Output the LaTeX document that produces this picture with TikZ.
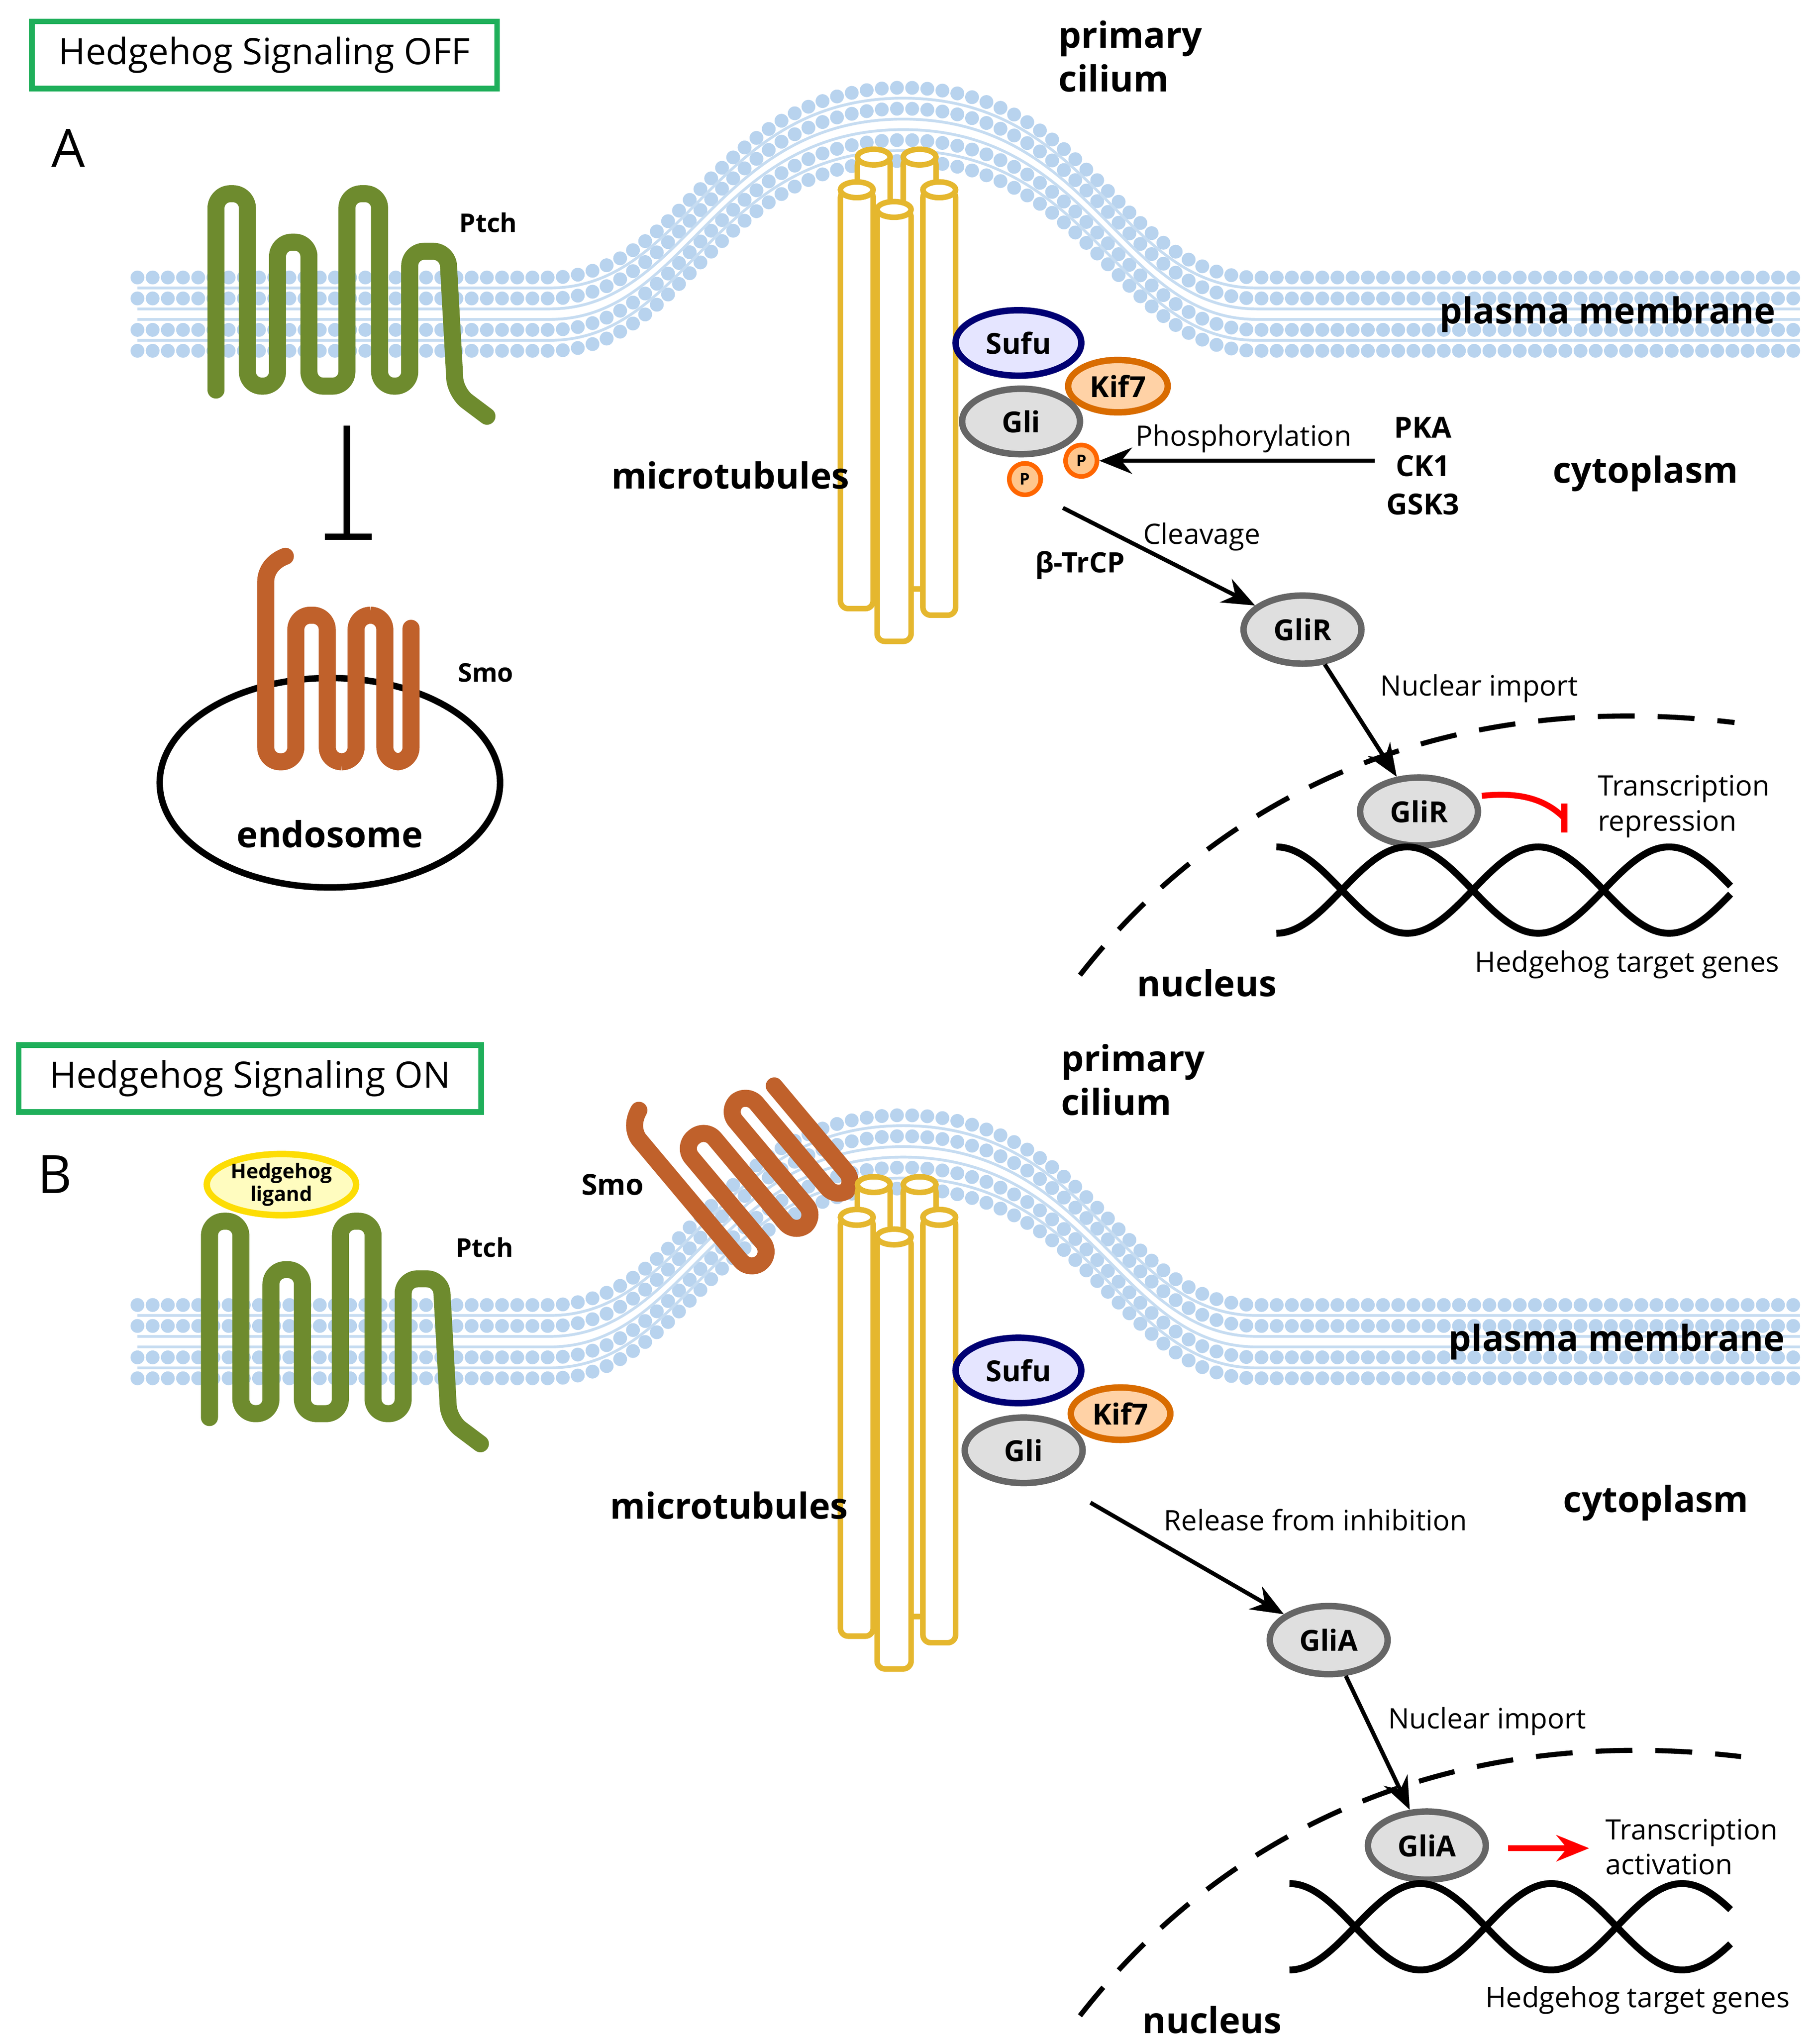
\documentclass[tikz,border=0pt]{standalone}
\usepackage{fontspec}
\setmainfont{Open Sans}
\usetikzlibrary{arrows.meta,shapes.geometric}
\definecolor{memb}{HTML}{B8D3EE}
\definecolor{ptch}{HTML}{6E8B2E}
\definecolor{smo}{HTML}{C0612B}
\definecolor{mt}{HTML}{E5B72E}
\definecolor{gbox}{HTML}{1FAF5A}
\tikzset{
 x=0.01cm,y=-0.01cm,
 head/.style={memb,line width=3pt,line cap=round,dash pattern=on 0pt off 3.3pt},
 tail/.style={memb!80,line width=0.6pt},
 ptchs/.style={ptch,line width=3.7pt,rounded corners=1.1mm,line cap=round},
 smos/.style={smo,line width=3.7pt,rounded corners=1.1mm,line cap=round},
 tube/.style={mt,line width=1.2pt,fill=white,rounded corners=0.6mm},
 prot/.style={ellipse,line width=1.4pt,inner sep=0,font=\fontsize{6.3}{7}\selectfont\bfseries},
 arr/.style={-{Stealth[length=2.5mm,width=2mm]},line width=0.9pt},
 lab/.style={font=\fontsize{6.1}{7.6}\selectfont,inner sep=0},
 blab/.style={font=\fontsize{7.8}{9.5}\selectfont\bfseries,inner sep=0},
 slab/.style={font=\fontsize{5.6}{7}\selectfont\bfseries,inner sep=0},
 nuc/.style={line width=1.1pt,dash pattern=on 8pt off 5pt},
}
\newcommand\membrane[1]{%
 \begin{scope}[shift={(0,#1)}]
 \foreach \o in {-28,-12,12,28}{
  \draw[head] (105,240+\o) -- (420,240+\o) .. controls (525,240+\o) and (545,95+\o) .. (690,95+\o) .. controls (835,95+\o) and (855,240+\o) .. (960,240+\o) -- (1375,240+\o);}
 \foreach \o in {-20,-4,4,20}{
  \draw[tail] (105,240+\o) -- (420,240+\o) .. controls (525,240+\o) and (545,95+\o) .. (690,95+\o) .. controls (835,95+\o) and (855,240+\o) .. (960,240+\o) -- (1375,240+\o);}
 \end{scope}}
\newcommand\ptchshape[2]{%
 \draw[ptchs,shift={(#1,#2)}] (165,298) -- (165,148) -- (189,148) -- (189,295) -- (212,295) -- (212,185) -- (236,185) -- (236,295) -- (265,295) -- (265,148) -- (290,148) -- (290,295) -- (313,295) -- (313,192) -- (342,192) -- (348,300) -- (372,318);}
\newcommand\tubes[1]{%
 \begin{scope}[shift={(0,#1)}]
 \draw[tube] (655,120) rectangle (680,450); \draw[mt,line width=1.2pt,fill=white] (667.5,120) ellipse (12.5 and 6);
 \draw[tube] (690,120) rectangle (715,450); \draw[mt,line width=1.2pt,fill=white] (702.5,120) ellipse (12.5 and 6);
 \draw[tube] (642,145) rectangle (667,465); \draw[mt,line width=1.2pt,fill=white] (654.5,145) ellipse (12.5 and 6);
 \draw[tube] (705,145) rectangle (730,470); \draw[mt,line width=1.2pt,fill=white] (717.5,145) ellipse (12.5 and 6);
 \draw[tube] (670,160) rectangle (696,490); \draw[mt,line width=1.2pt,fill=white] (683,160) ellipse (13 and 6);
 \end{scope}}
\newcommand\dna[2]{%
 \draw[line width=1.5pt,domain=#1:1322,samples=150,smooth] plot (\x,{#2+33*sin((\x-#1+50)*1.8)});
 \draw[line width=1.5pt,domain=#1:1322,samples=150,smooth] plot (\x,{#2-33*sin((\x-#1+50)*1.8)});}
\begin{document}
\begin{tikzpicture}
\useasboundingbox (0,0) rectangle (1390,1557);
% ===== Panel A =====
\membrane{0}
\node[draw=gbox,line width=1.2pt,minimum width=3.55cm,minimum height=0.47cm,font=\fontsize{7.9}{9}\selectfont] (tA) at (202,42) {Hedgehog Signaling OFF};
\node[font=\fontsize{11.5}{12}\selectfont] (A) at (52,113) {A};
\ptchshape{0}{0}
\node[slab] (ptchA) at (373,170) {Ptch};
\draw[line width=1.4pt] (265,325) -- (265,408); \draw[line width=1.4pt] (248,410) -- (284,410);
\draw[line width=1.4pt] (252,598) ellipse (130 and 80);
\draw[smos] (218,425) .. controls (205,430) and (203,440) .. (203,455) -- (203,582) -- (226,582) -- (226,470) -- (250,470) -- (250,582) -- (272,582) -- (272,470) -- (294,470) -- (294,582) -- (314,582) -- (314,480);
\node[slab] (smoA) at (371,514) {Smo};
\node[blab] (endo) at (252,637) {endosome};
\tubes{0}
\node[blab,align=left,anchor=north west] (pc) at (808,15) {primary\\cilium};
\node[blab] (mtA) at (558,363) {microtubules};
\node[blab] (pm) at (1228,240) {plasma membrane};
\node[blab] (cyto) at (1257,362) {cytoplasm};
\node[prot,draw=blue!45!black,fill=blue!10,minimum width=0.96cm,minimum height=0.5cm] (sufu) at (778,262) {Sufu};
\node[prot,draw=orange!85!black,fill=orange!35,minimum width=0.76cm,minimum height=0.4cm] (kif) at (854,295) {Kif7};
\node[prot,draw=gray!80!black,fill=gray!25,minimum width=0.9cm,minimum height=0.5cm] (gli) at (780,322) {Gli};
\node[circle,draw=orange!80!red,fill=orange!45,line width=1pt,inner sep=0,minimum size=0.24cm,font=\fontsize{3.5}{4}\selectfont\bfseries] (p1) at (826,352) {P};
\node[circle,draw=orange!80!red,fill=orange!45,line width=1pt,inner sep=0,minimum size=0.24cm,font=\fontsize{3.5}{4}\selectfont\bfseries] (p2) at (783,366) {P};
\node[slab,font=\fontsize{6.3}{8.3}\selectfont\bfseries,align=center] (kin) at (1087,356) {PKA\\CK1\\GSK3};
\coordinate (phs) at (1050,352);
\draw[arr] (phs) -- (p1);
\node[lab] (phl) at (950,335) {Phosphorylation};
\node[prot,draw=gray!80!black,fill=gray!25,minimum width=0.9cm,minimum height=0.52cm] (gliR) at (995,481) {GliR};
\coordinate (cl) at (812,388);
\draw[arr] (cl) -- (gliR);
\node[lab] (cll) at (918,410) {Cleavage};
\node[slab,font=\fontsize{6.1}{7}\selectfont\bfseries] (btrcp) at (825,432) {β-TrCP};
\draw[nuc] (825,745) .. controls (930,610) and (1100,525) .. (1325,552);
\node[prot,draw=gray!80!black,fill=gray!25,minimum width=0.9cm,minimum height=0.52cm] (gliRn) at (1084,620) {GliR};
\draw[arr] (gliR) -- (gliRn);
\node[lab] (nil) at (1130,526) {Nuclear import};
\coordinate (rep0) at (1132,608);
\coordinate (rep) at (1195,625);
\draw[red,line width=1.3pt] (rep0) .. controls (1160,605) and (1180,610) .. (rep);
\draw[red,line width=1.3pt] (1195,614) -- (1195,636);
\node[lab,align=left,anchor=west] (trA) at (1220,616) {Transcription\\repression};
\dna{975}{680}
\node[blab] (nucA) at (922,751) {nucleus};
\node[lab] (hgA) at (1243,737) {Hedgehog target genes};
% ===== Panel B =====
\membrane{785}
\node[draw=gbox,line width=1.2pt,minimum width=3.53cm,minimum height=0.47cm,font=\fontsize{7.9}{9}\selectfont] (tB) at (191,824) {Hedgehog Signaling ON};
\node[font=\fontsize{11.5}{12}\selectfont] (B) at (42,897) {B};
\ptchshape{-5}{785}
\node[ellipse,draw=yellow!80!orange,fill=yellow!25,line width=1.4pt,minimum width=1.14cm,minimum height=0.44cm,inner sep=0,align=center,font=\fontsize{4.4}{5}\selectfont\bfseries] (lig) at (215,905) {Hedgehog\\ligand};
\node[slab] (ptchB) at (370,953) {Ptch};
\begin{scope}[shift={(566,882)},rotate=40,scale=0.95,shift={(-258,-505)}]
\draw[smos] (218,425) .. controls (205,430) and (203,440) .. (203,455) -- (203,582) -- (226,582) -- (226,470) -- (250,470) -- (250,582) -- (272,582) -- (272,470) -- (294,470) -- (294,582) -- (314,582) -- (314,480);
\end{scope}
\node[slab,font=\fontsize{6.3}{7}\selectfont\bfseries] (smoB) at (468,905) {Smo};
\tubes{785}
\node[blab,align=left,anchor=north west] (pcB) at (810,797) {primary\\cilium};
\node[blab] (mtB) at (557,1150) {microtubules};
\node[blab] (pmB) at (1235,1025) {plasma membrane};
\node[blab] (cytoB) at (1265,1148) {cytoplasm};
\node[prot,draw=blue!45!black,fill=blue!10,minimum width=0.96cm,minimum height=0.5cm] (sufuB) at (778,1047) {Sufu};
\node[prot,draw=orange!85!black,fill=orange!35,minimum width=0.76cm,minimum height=0.4cm] (kifB) at (856,1080) {Kif7};
\node[prot,draw=gray!80!black,fill=gray!25,minimum width=0.9cm,minimum height=0.5cm] (gliB) at (782,1108) {Gli};
\node[prot,draw=gray!80!black,fill=gray!25,minimum width=0.9cm,minimum height=0.52cm] (gliA) at (1015,1253) {GliA};
\coordinate (rl) at (833,1148);
\draw[arr] (rl) -- (gliA);
\node[lab] (rll) at (1005,1161) {Release from inhibition};
\draw[nuc] (825,1540) .. controls (930,1405) and (1100,1315) .. (1330,1342);
\node[prot,draw=gray!80!black,fill=gray!25,minimum width=0.9cm,minimum height=0.52cm] (gliAn) at (1090,1410) {GliA};
\draw[arr] (gliA) -- (gliAn);
\node[lab] (nilB) at (1136,1315) {Nuclear import};
\coordinate (ac1) at (1152,1412); \coordinate (ac2) at (1214,1412);
\draw[arr,red,line width=1.3pt] (ac1) -- (ac2);
\node[lab,align=left,anchor=west] (trB) at (1226,1411) {Transcription\\activation};
\dna{985}{1472}
\node[blab] (nucB) at (926,1543) {nucleus};
\node[lab] (hgB) at (1251,1528) {Hedgehog target genes};
\end{tikzpicture}
\end{document}
